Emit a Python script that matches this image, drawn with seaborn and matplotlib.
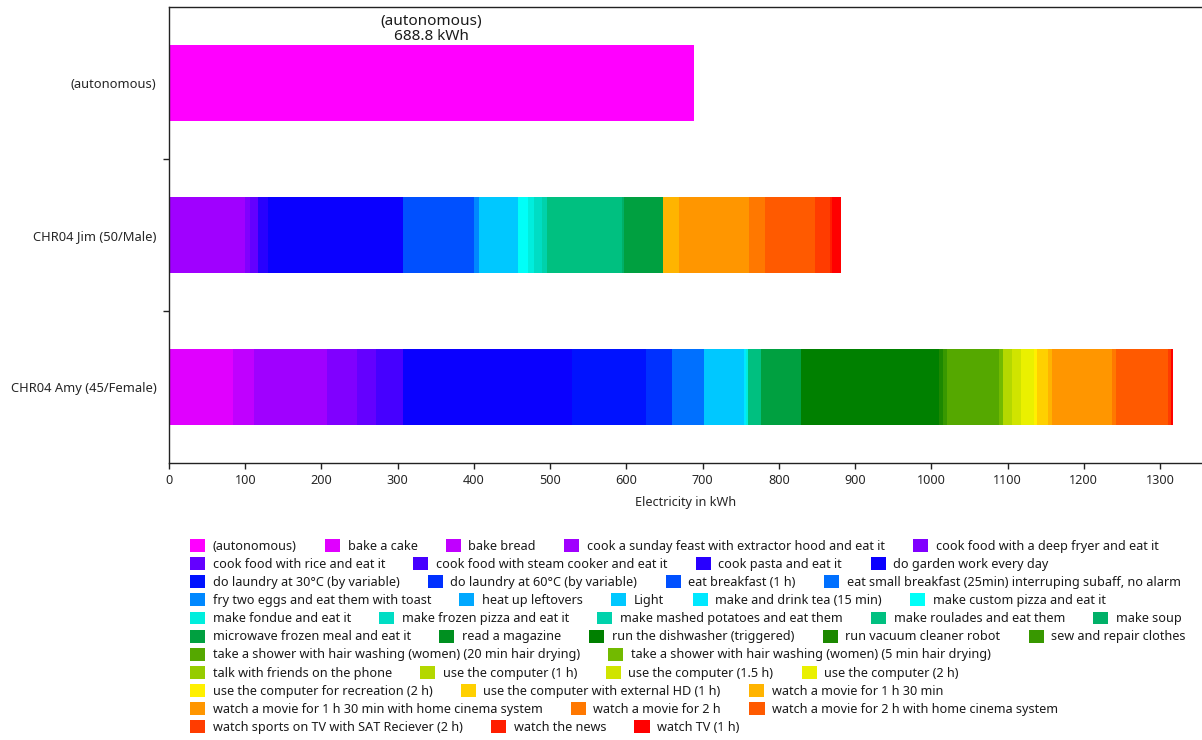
import matplotlib
matplotlib.use("Agg")
import matplotlib.pyplot as plt
from matplotlib.patches import Patch
import numpy as np
import seaborn as sns

persons = ["(autonomous)", "CHR04 Jim (50/Male)", "CHR04 Amy (45/Female)"]

activities = [
    "(autonomous)", "bake a cake", "bake bread",
    "cook a sunday feast with extractor hood and eat it",
    "cook food with a deep fryer and eat it", "cook food with rice and eat it",
    "cook food with steam cooker and eat it", "cook pasta and eat it",
    "do garden work every day", "do laundry at 30°C (by variable)",
    "do laundry at 60°C (by variable)", "eat breakfast (1 h)",
    "eat small breakfast (25min) interruping subaff, no alarm",
    "fry two eggs and eat them with toast", "heat up leftovers", "Light",
    "make and drink tea (15 min)", "make custom pizza and eat it",
    "make fondue and eat it", "make frozen pizza and eat it",
    "make mashed potatoes and eat them", "make roulades and eat them",
    "make soup", "microwave frozen meal and eat it", "read a magazine",
    "run the dishwasher (triggered)", "run vacuum cleaner robot",
    "sew and repair clothes",
    "take a shower with hair washing (women) (20 min hair drying)",
    "take a shower with hair washing (women) (5 min hair drying)",
    "talk with friends on the phone", "use the computer (1 h)",
    "use the computer (1.5 h)", "use the computer (2 h)",
    "use the computer for recreation (2 h)",
    "use the computer with external HD (1 h)", "watch a movie for 1 h 30 min",
    "watch a movie for 1 h 30 min with home cinema system",
    "watch a movie for 2 h", "watch a movie for 2 h with home cinema system",
    "watch sports on TV with SAT Reciever (2 h)", "watch the news",
    "watch TV (1 h)",
]

# kWh per activity, same order as activities
autonomous_kwh = [688.8, 0, 0, 0, 0, 0, 0, 0, 0, 0, 0, 0, 0, 0, 0, 0, 0, 0, 0, 0, 0, 0,
                  0, 0, 0, 0, 0, 0, 0, 0, 0, 0, 0, 0, 0, 0, 0, 0, 0, 0, 0, 0, 0]
jim_kwh = [0, 0, 0, 100.0, 6.6, 10.1, 0, 13.1, 176.7, 0, 0, 93.5, 0, 6.5, 0, 51.3, 0, 13.1,
           7.4, 10.8, 6.6, 98.6, 2.2, 51.1, 0, 0, 0, 0, 0, 0, 0, 0, 0, 0, 0, 0, 21.0, 91.7,
           21.0, 66.6, 19.6, 2.2, 12.2]
amy_kwh = [0, 84.2, 26.8, 96.9, 39.0, 24.8, 34.8, 0, 222.3, 97.4, 33.6, 0, 42.4, 0, 0, 52.4,
           2.5, 0, 2.3, 0, 0, 16.6, 0, 53.6, 0, 180.8, 4.4, 5.2, 68.2, 5.7, 0, 11.8, 11.8,
           16.7, 4.4, 14.5, 5.2, 78.1, 6.1, 68.5, 3.0, 0, 3.0]

colors = [
    "#FF00FF", "#E000FF", "#C000FF", "#A000FF", "#8000FF", "#6400FF", "#4600FF", "#2800FF",
    "#0A00FF", "#0012FF", "#0030FF", "#0050FF", "#0070FF", "#0088FF", "#00A8FF", "#00C8FF",
    "#00E8FF", "#00FFF8", "#00EEDD", "#00DDC4", "#00D2AC", "#00C080", "#00B068", "#00A040",
    "#009020", "#008000", "#1C8800", "#389800", "#55A800", "#72BA00", "#96CC00", "#B4D800",
    "#D0E400", "#EAF000", "#FFF000", "#FFD000", "#FFB400", "#FF9600", "#FF7800", "#FF5A00",
    "#FF3C00", "#FF1E00", "#FF0000",
]

sns.set_style("white")
plt.rcParams["font.family"] = ["Noto Sans", "DejaVu Sans"]
plt.rcParams["text.color"] = "#1a1a1a"
FS = 9.1

fig = plt.figure(figsize=(12.02, 7.40), dpi=100)
ax = fig.add_axes([169 / 1202, 1 - 463 / 740, 1 - 169 / 1202, (463 - 7) / 740])

data = np.array([autonomous_kwh, jim_kwh, amy_kwh])
cum = data.cumsum(axis=1)

# stacked bars: draw running totals from the last activity back to the first
for i in reversed(range(len(activities))):
    sns.barplot(x=cum[:, i], y=persons, orient="y", color=colors[i], saturation=1,
                width=0.5, linewidth=0, ax=ax)

ax.text(autonomous_kwh[0] / 2, -0.255, f"(autonomous)\n{autonomous_kwh[0]} kWh",
        ha="center", va="bottom", fontsize=11, linespacing=1.05)

ax.set_xlim(0, 1355)
ax.set_ylim(2.5, -0.5)
ax.set_xticks(range(0, 1301, 100))
ax.set_xlabel("Electricity in kWh", fontsize=FS, labelpad=6.5)
ax.set_ylabel("")
ax.tick_params(axis="x", length=4.5, width=1, direction="out", pad=3.5, labelsize=FS,
               bottom=True, color="#222222")
ax.tick_params(axis="y", which="major", length=0, pad=9, labelsize=9.3)
ax.set_yticks([0.5, 1.5], minor=True)
ax.tick_params(axis="y", which="minor", length=4.5, width=1, direction="out", left=True,
               color="#222222")

for side in ["left", "bottom", "top"]:
    ax.spines[side].set_visible(True)
    ax.spines[side].set_color("#222222")
    ax.spines[side].set_linewidth(1.0)
ax.spines["right"].set_visible(False)

# legend laid out in flowing rows
row_sizes = [5, 4, 4, 5, 5, 5, 2, 4, 3, 3, 3]
start = 0
for r, n in enumerate(row_sizes):
    idx = range(start, start + n)
    handles = [Patch(facecolor=colors[i], edgecolor="none") for i in idx]
    labels = [activities[i] for i in idx]
    y_center = 546 + r * 18.1
    fig.legend(handles, labels, loc="center left", bbox_to_anchor=(190 / 1202, 1 - y_center / 740),
               ncol=n, frameon=False, fontsize=FS, handlelength=1.19, handleheight=1.19,
               handletextpad=0.6, columnspacing=2.25, borderpad=0, borderaxespad=0)
    start += n

fig.savefig("out.png", dpi=100)
